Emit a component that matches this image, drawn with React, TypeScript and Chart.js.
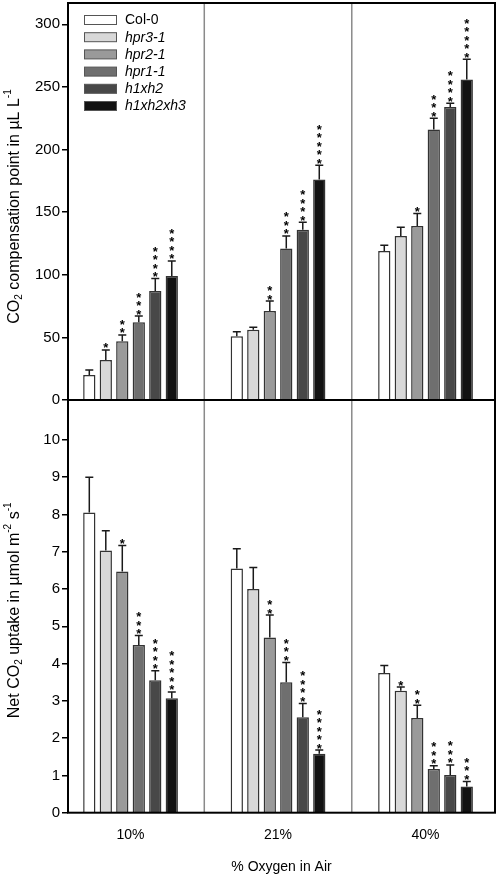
import React, { useEffect, useRef } from 'react';
import { Chart, registerables } from 'chart.js';

Chart.register(...registerables);

// ---------- data ----------
const OXYGEN_LEVELS = ['10%', '21%', '40%'];
const GENOTYPES = ['Col-0', 'hpr3-1', 'hpr2-1', 'hpr1-1', 'h1xh2', 'h1xh2xh3'];
const ITALIC_LABEL = [false, true, true, true, true, true];
const FILL_COLORS = ['#ffffff', '#d8d8d8', '#9a9a9a', '#6f6f6f', '#484848', '#121212'];

// CO2 compensation point (µL L-1) at 10%, 21%, 40% O2
const COMP_COL0 = [20, 51, 119];
const COMP_HPR3 = [32, 56, 131];
const COMP_HPR2 = [47, 71, 139];
const COMP_HPR1 = [62, 121, 216];
const COMP_H1XH2 = [87, 136, 234];
const COMP_H1XH2XH3 = [99, 176, 256];

const COMP_ERR_COL0 = [4, 3.5, 4.5];
const COMP_ERR_HPR3 = [8, 2, 7];
const COMP_ERR_HPR2 = [5, 8, 10];
const COMP_ERR_HPR1 = [5, 10, 9];
const COMP_ERR_H1XH2 = [10, 6, 3];
const COMP_ERR_H1XH2XH3 = [12, 11.5, 16];

const COMP_STARS_COL0 = [0, 0, 0];
const COMP_STARS_HPR3 = [1, 0, 0];
const COMP_STARS_HPR2 = [2, 2, 1];
const COMP_STARS_HPR1 = [3, 3, 3];
const COMP_STARS_H1XH2 = [4, 4, 4];
const COMP_STARS_H1XH2XH3 = [4, 5, 5];

// Net CO2 uptake (µmol m-2 s-1)
const UPT_COL0 = [8.05, 6.55, 3.75];
const UPT_HPR3 = [7.03, 6.0, 3.27];
const UPT_HPR2 = [6.47, 4.7, 2.54];
const UPT_HPR1 = [4.5, 3.5, 1.17];
const UPT_H1XH2 = [3.55, 2.56, 1.01];
const UPT_H1XH2XH3 = [3.07, 1.58, 0.7];

const UPT_ERR_COL0 = [0.95, 0.53, 0.2];
const UPT_ERR_HPR3 = [0.53, 0.58, 0.1];
const UPT_ERR_HPR2 = [0.7, 0.6, 0.34];
const UPT_ERR_HPR1 = [0.25, 0.53, 0.09];
const UPT_ERR_H1XH2 = [0.26, 0.37, 0.27];
const UPT_ERR_H1XH2XH3 = [0.17, 0.1, 0.14];

const UPT_STARS_COL0 = [0, 0, 0];
const UPT_STARS_HPR3 = [0, 0, 1];
const UPT_STARS_HPR2 = [1, 2, 2];
const UPT_STARS_HPR1 = [3, 3, 3];
const UPT_STARS_H1XH2 = [4, 4, 3];
const UPT_STARS_H1XH2XH3 = [5, 5, 3];

const COMP_TICKS = [0, 50, 100, 150, 200, 250, 300];
const UPT_TICKS = [0, 1, 2, 3, 4, 5, 6, 7, 8, 9, 10];

const COMP_VALUES = [COMP_COL0, COMP_HPR3, COMP_HPR2, COMP_HPR1, COMP_H1XH2, COMP_H1XH2XH3];
const COMP_ERRORS = [COMP_ERR_COL0, COMP_ERR_HPR3, COMP_ERR_HPR2, COMP_ERR_HPR1, COMP_ERR_H1XH2, COMP_ERR_H1XH2XH3];
const COMP_STARS = [COMP_STARS_COL0, COMP_STARS_HPR3, COMP_STARS_HPR2, COMP_STARS_HPR1, COMP_STARS_H1XH2, COMP_STARS_H1XH2XH3];
const UPT_VALUES = [UPT_COL0, UPT_HPR3, UPT_HPR2, UPT_HPR1, UPT_H1XH2, UPT_H1XH2XH3];
const UPT_ERRORS = [UPT_ERR_COL0, UPT_ERR_HPR3, UPT_ERR_HPR2, UPT_ERR_HPR1, UPT_ERR_H1XH2, UPT_ERR_H1XH2XH3];
const UPT_STARS = [UPT_STARS_COL0, UPT_STARS_HPR3, UPT_STARS_HPR2, UPT_STARS_HPR1, UPT_STARS_H1XH2, UPT_STARS_H1XH2XH3];

const FONT = '"Liberation Sans", Arial, Helvetica, sans-serif';
Chart.defaults.font.family = FONT;
Chart.defaults.color = '#000';

type Seg = { t: string; k: 'n' | 'sub' | 'sup' };
const COMP_TITLE: Seg[] = [
  { t: 'CO', k: 'n' },
  { t: '2', k: 'sub' },
  { t: ' compensation point in \u00b5L L', k: 'n' },
  { t: '-1', k: 'sup' },
];
const UPT_TITLE: Seg[] = [
  { t: 'Net CO', k: 'n' },
  { t: '2', k: 'sub' },
  { t: ' uptake in \u00b5mol m', k: 'n' },
  { t: '-2', k: 'sup' },
  { t: ' s', k: 'n' },
  { t: '-1', k: 'sup' },
];

function buildDatasets(values: number[][]) {
  return GENOTYPES.map((g, gi) => ({
    label: g,
    data: values[gi].map((v, i) => ({ x: i + 1, y: v })),
    backgroundColor: FILL_COLORS[gi],
    borderColor: '#333333',
    borderWidth: 1.5,
    barPercentage: 0.745,
    categoryPercentage: 0.671,
  }));
}

function errorStarsPlugin(errors: number[][], stars: number[][]) {
  return {
    id: 'errorStars',
    afterDatasetsDraw(chart: any) {
      const ctx = chart.ctx;
      const ys = chart.scales.y;
      chart.data.datasets.forEach((ds: any, di: number) => {
        const meta = chart.getDatasetMeta(di);
        meta.data.forEach((bar: any, i: number) => {
          const v = ds.data[i].y;
          const e = errors[di][i];
          const yTop = ys.getPixelForValue(v);
          const yErr = ys.getPixelForValue(v + e);
          const x = bar.x;
          ctx.save();
          ctx.strokeStyle = '#1a1a1a';
          ctx.lineWidth = 1.5;
          ctx.beginPath();
          ctx.moveTo(x, yTop);
          ctx.lineTo(x, yErr);
          ctx.moveTo(x - 4, yErr);
          ctx.lineTo(x + 4, yErr);
          ctx.stroke();
          ctx.fillStyle = '#000';
          ctx.font = `bold 13px ${FONT}`;
          ctx.textAlign = 'center';
          ctx.textBaseline = 'alphabetic';
          for (let k = 0; k < stars[di][i]; k++) {
            ctx.fillText('*', x, yErr - 5 - k * 8.5 + 7.5);
          }
          ctx.restore();
        });
      });
    },
  };
}

const dividerPlugin = {
  id: 'dividers',
  beforeDatasetsDraw(chart: any) {
    const { ctx, chartArea } = chart;
    const xs = chart.scales.x;
    ctx.save();
    ctx.strokeStyle = '#8a8a8a';
    ctx.lineWidth = 1.5;
    for (let i = 1; i < OXYGEN_LEVELS.length; i++) {
      const px = xs.getPixelForValue(i + 0.5);
      ctx.beginPath();
      ctx.moveTo(px, chartArea.top);
      ctx.lineTo(px, chartArea.bottom);
      ctx.stroke();
    }
    ctx.restore();
  },
};

const framePlugin = {
  id: 'frame',
  afterDraw(chart: any) {
    const { ctx, chartArea } = chart;
    ctx.save();
    ctx.strokeStyle = '#000';
    ctx.lineWidth = 2;
    ctx.strokeRect(chartArea.left, chartArea.top, chartArea.right - chartArea.left, chartArea.bottom - chartArea.top);
    ctx.restore();
  },
};

function yTitlePlugin(segs: Seg[], shift: number) {
  return {
    id: 'yTitle',
    afterDraw(chart: any) {
      const { ctx, chartArea } = chart;
      const base = 16;
      const small = 10;
      const fontFor = (k: string) => `${k === 'n' ? base : small}px ${FONT}`;
      ctx.save();
      let total = 0;
      segs.forEach((s) => {
        ctx.font = fontFor(s.k);
        total += ctx.measureText(s.t).width;
      });
      const cy = (chartArea.top + chartArea.bottom) / 2 + shift;
      ctx.translate(18.5, cy);
      ctx.rotate(-Math.PI / 2);
      ctx.fillStyle = '#000';
      ctx.textBaseline = 'alphabetic';
      ctx.textAlign = 'left';
      let x = -total / 2;
      segs.forEach((s) => {
        ctx.font = fontFor(s.k);
        const dy = s.k === 'sub' ? 3 : s.k === 'sup' ? -8 : 0;
        ctx.fillText(s.t, x, dy);
        x += ctx.measureText(s.t).width;
      });
      ctx.restore();
    },
  };
}

const legendPlugin = {
  id: 'customLegend',
  afterDraw(chart: any) {
    const { ctx, chartArea } = chart;
    ctx.save();
    chart.data.datasets.forEach((ds: any, i: number) => {
      const cy = chartArea.top + 17 + i * 17.2;
      const bx = chartArea.left + 16;
      ctx.fillStyle = ds.backgroundColor;
      ctx.fillRect(bx, cy - 4.5, 33, 9);
      ctx.strokeStyle = '#555';
      ctx.lineWidth = 1;
      ctx.strokeRect(bx + 0.5, cy - 4.5, 32, 9);
      ctx.fillStyle = '#000';
      ctx.font = `${ITALIC_LABEL[i] ? 'italic ' : ''}14px ${FONT}`;
      ctx.textAlign = 'left';
      ctx.textBaseline = 'middle';
      ctx.fillText(ds.label, chartArea.left + 57, cy + 0.5);
    });
    ctx.restore();
  },
};

const X_MIN = 0.576;
const X_MAX = 3.471;

function xScale(showLabels: boolean) {
  return {
    type: 'linear' as const,
    display: showLabels,
    min: X_MIN,
    max: X_MAX,
    offset: false,
    bounds: 'data' as const,
    grid: { display: false, drawTicks: false },
    border: { display: false },
    afterBuildTicks: (s: any) => {
      s.ticks = OXYGEN_LEVELS.map((_, i) => ({ value: i + 1 }));
    },
    afterFit: (s: any) => {
      if (showLabels) s.height = 65.3;
      s.paddingLeft = 0;
      s.paddingRight = 0;
    },
    ticks: {
      autoSkip: false,
      maxRotation: 0,
      padding: 14,
      font: { size: 14, family: FONT },
      color: '#000',
      callback: (v: any) => OXYGEN_LEVELS[Math.round(v) - 1] ?? '',
    },
    title: {
      display: showLabels,
      text: '% Oxygen in Air',
      font: { size: 14, family: FONT },
      color: '#000',
      padding: { top: 0, bottom: 2 },
    },
  };
}

function yScale(max: number, tickValues: number[]) {
  return {
    type: 'linear' as const,
    min: 0,
    max,
    bounds: 'data' as const,
    afterBuildTicks: (s: any) => {
      s.ticks = tickValues.map((v) => ({ value: v }));
    },
    afterFit: (s: any) => {
      s.width = 68;
      s.paddingTop = 0;
      s.paddingBottom = 0;
    },
    grid: {
      drawOnChartArea: false,
      drawTicks: true,
      tickLength: 6,
      color: '#000',
      lineWidth: 1.5,
    },
    border: { display: false },
    ticks: {
      padding: 2,
      font: { size: 15, family: FONT },
      color: '#000',
    },
  };
}

function useChart(
  ref: React.RefObject<HTMLCanvasElement | null>,
  values: number[][],
  errors: number[][],
  stars: number[][],
  top: boolean
) {
  useEffect(() => {
    if (!ref.current) return;
    const plugins: any[] = [
      dividerPlugin,
      errorStarsPlugin(errors, stars),
      framePlugin,
      yTitlePlugin(top ? COMP_TITLE : UPT_TITLE, top ? 5 : 4),
    ];
    if (top) plugins.push(legendPlugin);
    const chart = new Chart(ref.current, {
      type: 'bar',
      data: { datasets: buildDatasets(values) as any },
      options: {
        animation: false,
        responsive: false,
        devicePixelRatio: 1,
        layout: {
          padding: top ? { top: 3, right: 3, bottom: 11, left: 0 } : { top: 0, right: 3, bottom: 0, left: 0 },
        },
        plugins: { legend: { display: false }, tooltip: { enabled: false } },
        scales: {
          x: xScale(!top) as any,
          y: yScale(top ? 317 : 11.07, top ? COMP_TICKS : UPT_TICKS) as any,
        },
      },
      plugins,
    });
    return () => chart.destroy();
  }, []);
}

export default function App() {
  const topRef = useRef<HTMLCanvasElement>(null);
  const botRef = useRef<HTMLCanvasElement>(null);
  useChart(topRef, COMP_VALUES, COMP_ERRORS, COMP_STARS, true);
  useChart(botRef, UPT_VALUES, UPT_ERRORS, UPT_STARS, false);
  return (
    <div style={{ position: 'absolute', left: 0, top: 0, width: 498, height: 878, background: '#fff' }}>
      <canvas ref={botRef} width={498} height={478} style={{ position: 'absolute', left: 0, top: 400, display: 'block' }} />
      <canvas ref={topRef} width={498} height={411} style={{ position: 'absolute', left: 0, top: 0, display: 'block' }} />
    </div>
  );
}
